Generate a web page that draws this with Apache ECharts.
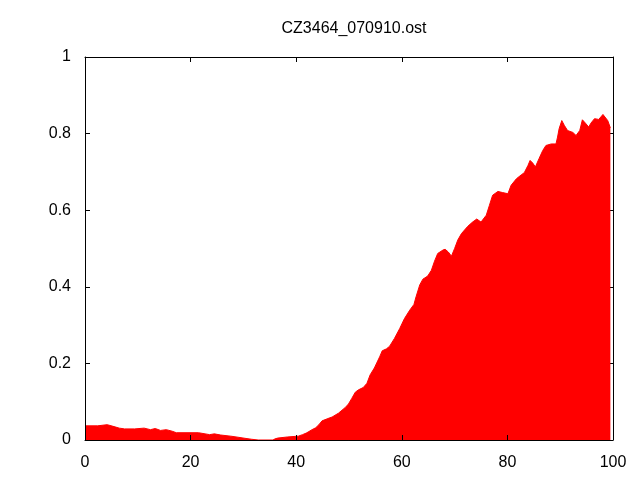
<!DOCTYPE html>
<html>
<head>
<meta charset="utf-8">
<script src="https://cdn.jsdelivr.net/npm/echarts@6/dist/echarts.min.js"></script>
<style>html,body{margin:0;padding:0;background:#fff}#c{width:640px;height:480px}</style>
</head>
<body>
<div id="c"></div>
<script>
var titleText = 'CZ3464_070910.ost';
var xTicks = [0, 20, 40, 60, 80, 100];
var yTicks = [0, 0.2, 0.4, 0.6, 0.8, 1];
var xs = [0, 2.4, 2.6, 4.2, 4.5, 5.5, 6.5, 7.5, 9.4, 9.7, 11.2, 11.5, 12.4, 13.3, 14.3, 15.4, 16.5, 17.3, 21.5, 21.7,
  23.6, 24.5, 25.7, 27.6, 28.6, 30.5, 31.5, 32.8, 35.6, 36.0, 36.5, 38.4, 40.4, 41.2, 41.9, 42.4, 43.0, 43.7, 44.3, 44.9,
  46.0, 46.8, 48.0, 49.3, 49.9, 50.5, 51.2, 51.8, 52.7, 53.4, 54.0, 54.8, 55.8, 56.3, 57.1, 57.7, 58.6, 59.6, 60.5, 61.5,
  62.3, 62.7, 63.4, 64.0, 64.9, 65.6, 66.2, 66.8, 67.8, 68.2, 68.8, 69.4, 70.0, 70.6, 71.3, 72.5, 73.4, 74.2, 75.0, 75.3,
  76.0, 76.6, 77.2, 78.2, 79.1, 80.1, 80.7, 81.7, 82.6, 83.2, 83.9, 84.3, 84.8, 85.3, 86.0, 86.7, 87.3, 88.3, 89.2, 89.5,
  89.8, 90.3, 90.8, 91.4, 92.4, 93.0, 93.3, 93.7, 94.2, 94.8, 95.4, 95.8, 96.5, 97.3, 98.1, 98.4, 99.0, 99.5];
var ys = [0.037, 0.037, 0.040, 0.040, 0.037, 0.035, 0.031, 0.029, 0.029, 0.031, 0.031, 0.029, 0.027, 0.030, 0.025, 0.027, 0.023, 0.019, 0.019, 0.016,
  0.014, 0.016, 0.013, 0.010, 0.008, 0.004, 0.002, 0, 0, 0.003, 0.005, 0.008, 0.010, 0.014, 0.018, 0.022, 0.027, 0.032, 0.040, 0.050,
  0.056, 0.060, 0.070, 0.085, 0.094, 0.108, 0.125, 0.131, 0.137, 0.148, 0.170, 0.188, 0.217, 0.233, 0.238, 0.245, 0.265, 0.291, 0.317, 0.339,
  0.354, 0.374, 0.405, 0.420, 0.428, 0.443, 0.467, 0.487, 0.496, 0.498, 0.491, 0.480, 0.500, 0.522, 0.539, 0.558, 0.569, 0.577, 0.569, 0.571,
  0.587, 0.613, 0.639, 0.649, 0.646, 0.643, 0.665, 0.682, 0.692, 0.698, 0.717, 0.730, 0.723, 0.713, 0.735, 0.756, 0.769, 0.773, 0.773, 0.791,
  0.813, 0.834, 0.821, 0.808, 0.803, 0.795, 0.791, 0.808, 0.836, 0.827, 0.817, 0.827, 0.839, 0.837, 0.850, 0.852, 0.834, 0.815];

var data = xs.map(function (x, i) { return [x, ys[i]]; });
var font = 'Liberation Sans, Arial, sans-serif';
var chart = echarts.init(document.getElementById('c'), null, {renderer: 'canvas'});
function axisCommon() {
  return {
    axisLine: {show: true, onZero: false, lineStyle: {color: '#000', width: 1}},
    axisTick: {show: true, inside: true, length: 5, lineStyle: {color: '#000'}},
    splitLine: {show: false}
  };
}
chart.setOption({
  animation: false,
  backgroundColor: '#fff',
  title: {
    text: titleText, left: 349, top: 16, textAlign: 'center',
    textStyle: {fontFamily: font, fontSize: 16, fontWeight: 'normal', color: '#000'}
  },
  grid: {left: 85, top: 57, right: 27, bottom: 40, containLabel: false},
  xAxis: [
    Object.assign(axisCommon(), {
      type: 'value', min: xTicks[0], max: xTicks[xTicks.length - 1], interval: xTicks[1] - xTicks[0], position: 'bottom', z: 5,
      axisLabel: {fontFamily: font, fontSize: 16, color: '#000', margin: 15}
    }),
    Object.assign(axisCommon(), {
      type: 'value', min: xTicks[0], max: xTicks[xTicks.length - 1], interval: xTicks[1] - xTicks[0], position: 'top', z: 5,
      axisLabel: {show: false}
    })
  ],
  yAxis: [
    Object.assign(axisCommon(), {
      type: 'value', min: yTicks[0], max: yTicks[yTicks.length - 1], interval: 0.2, position: 'left', z: 5,
      axisLabel: {fontFamily: font, fontSize: 16, color: '#000', margin: 14,
        formatter: function (v) { return String(Math.round(v * 10) / 10); }}
    }),
    Object.assign(axisCommon(), {
      type: 'value', min: yTicks[0], max: yTicks[yTicks.length - 1], interval: 0.2, position: 'right', z: 1,
      axisLabel: {show: false}
    })
  ],
  series: [{
    type: 'line', xAxisIndex: 0, yAxisIndex: 0, data: data,
    showSymbol: false, symbol: 'none', smooth: false,
    lineStyle: {color: '#ff0000', width: 1},
    areaStyle: {color: '#ff0000', opacity: 1},
    z: 2
  }]
});
</script>
</body>
</html>
